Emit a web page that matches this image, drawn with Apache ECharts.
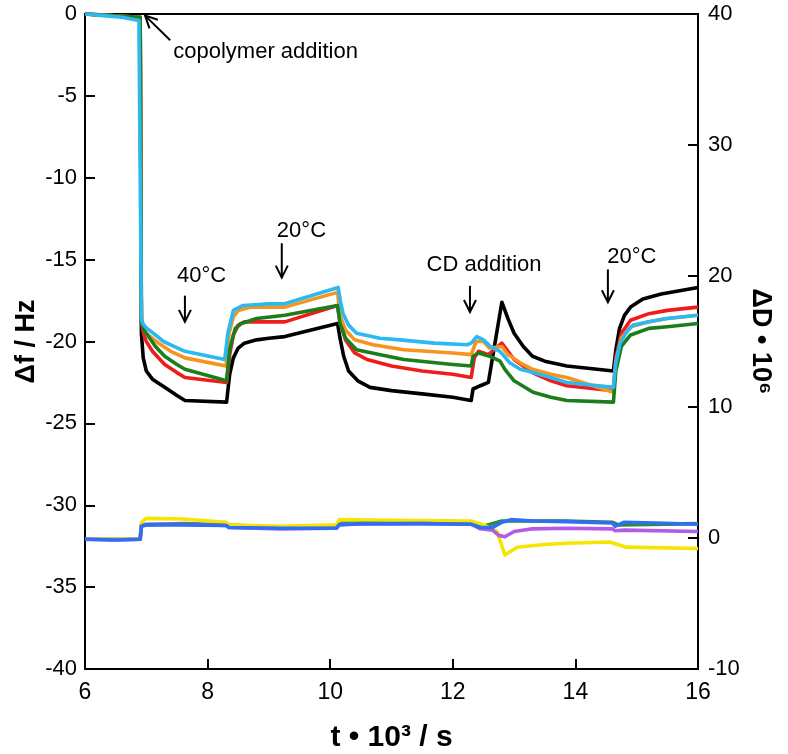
<!DOCTYPE html>
<html><head><meta charset="utf-8">
<script src="https://cdn.jsdelivr.net/npm/echarts@6/dist/echarts.min.js"></script>
<style>html,body{margin:0;padding:0;background:#fff}#c{width:788px;height:754px}</style>
</head><body><div id="c"></div>
<script>
// ---- axes ----
const xRange = [6, 16], xStep = 2;
const fRange = [-40, 0], fStep = 5;
const dRange = [-10, 40], dStep = 10;

// ---- frequency shift Δf (Hz) vs t (10^3 s) ----
const fBlack = [[6.0,0],[6.5,-0.1],[6.9,-0.2],[6.92,-19.5],[6.95,-21.0],[7.0,-21.8],[7.1,-22.3],[7.3,-22.8],[7.5,-23.3],[7.63,-23.6],[8.31,-23.7],[8.36,-22.0],[8.42,-21.0],[8.5,-20.4],[8.6,-20.1],[8.8,-19.9],[9.0,-19.8],[9.26,-19.7],[10.12,-18.9],[10.16,-19.8],[10.22,-20.9],[10.3,-21.8],[10.45,-22.4],[10.65,-22.8],[11.0,-23.0],[11.5,-23.2],[12.0,-23.4],[12.3,-23.6],[12.33,-22.9],[12.45,-22.7],[12.58,-22.5],[12.8,-17.6],[12.9,-18.6],[13.0,-19.5],[13.15,-20.3],[13.3,-20.9],[13.5,-21.2],[13.86,-21.5],[14.62,-21.8],[14.66,-20.5],[14.72,-19.2],[14.8,-18.4],[14.9,-17.9],[15.1,-17.4],[15.4,-17.1],[15.7,-16.9],[16.0,-16.7]];
const fRed = [[6.0,0],[6.9,-0.2],[6.92,-18.8],[6.96,-19.6],[7.0,-20.0],[7.1,-20.6],[7.3,-21.4],[7.5,-21.9],[7.63,-22.2],[8.31,-22.5],[8.36,-20.8],[8.42,-19.6],[8.5,-19.0],[8.6,-18.8],[9.0,-18.8],[9.26,-18.8],[10.12,-17.8],[10.16,-18.8],[10.25,-19.9],[10.4,-20.7],[10.6,-21.1],[11.0,-21.5],[11.5,-21.8],[12.0,-22.0],[12.3,-22.2],[12.35,-21.0],[12.42,-20.6],[12.58,-20.8],[12.8,-20.1],[12.9,-20.6],[13.0,-21.1],[13.3,-21.9],[13.6,-22.4],[13.86,-22.7],[14.62,-23.0],[14.66,-21.0],[14.75,-19.5],[14.9,-18.7],[15.2,-18.3],[15.5,-18.1],[16.0,-17.9]];
const fOrange = [[6.0,0],[6.9,-0.2],[6.92,-18.6],[6.96,-19.2],[7.0,-19.5],[7.2,-20.1],[7.4,-20.6],[7.63,-21.0],[8.3,-21.5],[8.35,-19.5],[8.42,-18.5],[8.5,-18.1],[8.7,-17.9],[9.26,-17.9],[10.12,-17.0],[10.16,-18.4],[10.25,-19.3],[10.4,-19.9],[10.7,-20.2],[11.2,-20.5],[12.0,-20.7],[12.3,-20.8],[12.38,-20.0],[12.5,-20.0],[12.6,-20.4],[12.8,-20.3],[12.9,-20.8],[13.1,-21.3],[13.3,-21.7],[13.6,-22.0],[13.86,-22.2],[14.62,-23.1],[14.66,-21.2],[14.75,-19.8],[14.9,-19.1],[15.2,-18.8],[15.5,-18.6],[16.0,-18.4]];
const fGreen = [[6.0,0],[6.9,-0.2],[6.92,-18.8],[6.96,-19.3],[7.0,-19.5],[7.15,-20.3],[7.3,-20.9],[7.5,-21.4],[7.63,-21.7],[8.31,-22.4],[8.36,-20.5],[8.45,-19.2],[8.55,-18.9],[8.8,-18.6],[9.26,-18.4],[10.12,-17.8],[10.16,-18.9],[10.25,-19.8],[10.43,-20.5],[10.8,-20.8],[11.2,-21.1],[12.0,-21.4],[12.3,-21.5],[12.33,-20.9],[12.42,-20.7],[12.6,-20.9],[12.77,-21.2],[12.85,-21.7],[13.0,-22.4],[13.31,-23.1],[13.6,-23.4],[13.86,-23.6],[14.62,-23.7],[14.66,-21.8],[14.75,-20.3],[14.9,-19.6],[15.2,-19.2],[15.5,-19.1],[16.0,-18.9]];
const fCyan = [[6.0,0],[6.3,-0.1],[6.6,-0.2],[6.88,-0.4],[6.92,-18.7],[6.96,-19.0],[7.01,-19.2],[7.15,-19.6],[7.28,-20.0],[7.45,-20.3],[7.63,-20.6],[8.28,-21.1],[8.33,-19.5],[8.42,-18.1],[8.58,-17.8],[9.0,-17.7],[9.26,-17.7],[10.13,-16.7],[10.17,-17.6],[10.21,-18.3],[10.3,-19.0],[10.43,-19.5],[10.81,-19.8],[11.14,-19.9],[11.7,-20.1],[12.23,-20.2],[12.3,-20.1],[12.39,-19.7],[12.5,-19.9],[12.61,-20.3],[12.77,-20.6],[12.93,-21.3],[13.1,-21.7],[13.31,-21.9],[13.6,-22.2],[13.86,-22.5],[14.62,-22.8],[14.66,-21.3],[14.73,-20.1],[14.84,-19.4],[14.94,-19.0],[15.2,-18.8],[15.49,-18.6],[16.0,-18.4]];

// ---- dissipation ΔD (10^-6) vs t (10^3 s) ----
const dGreen = [[6.0,-0.1],[6.9,-0.1],[6.92,1.0],[7.6,1.1],[8.3,1.0],[9.2,0.8],[10.1,0.85],[10.2,1.2],[12.3,1.15],[12.5,0.9],[12.8,1.3],[13.85,1.3],[14.6,1.2],[14.7,1.0],[16.0,1.1]];
const dYellow = [[6.0,-0.1],[6.9,-0.1],[6.92,1.2],[7.0,1.5],[7.6,1.45],[8.3,1.2],[8.35,1.0],[9.2,0.9],[10.1,1.0],[10.15,1.4],[11.0,1.35],[12.3,1.3],[12.5,1.0],[12.72,0.5],[12.85,-1.3],[13.05,-0.7],[13.5,-0.5],[13.86,-0.4],[14.56,-0.3],[14.83,-0.7],[16.0,-0.8]];
const dPurple = [[6.0,-0.1],[6.5,-0.15],[6.9,-0.1],[6.92,0.9],[7.0,1.05],[7.6,1.05],[8.3,0.95],[8.35,0.8],[9.2,0.7],[10.1,0.75],[10.15,1.05],[11.5,1.1],[12.3,1.05],[12.45,0.7],[12.65,0.6],[12.75,0.2],[12.85,0.1],[13.0,0.5],[13.3,0.7],[13.85,0.75],[14.6,0.7],[14.65,0.55],[14.8,0.6],[16.0,0.5]];
const dBlue = [[6.0,-0.1],[6.5,-0.15],[6.9,-0.1],[6.92,0.9],[7.0,1.0],[7.6,1.0],[8.3,0.95],[8.35,0.8],[9.2,0.75],[10.1,0.75],[10.15,1.0],[10.5,1.1],[11.5,1.1],[12.3,1.05],[12.45,0.8],[12.65,0.8],[12.8,1.2],[12.95,1.4],[13.3,1.3],[13.85,1.25],[14.6,1.15],[14.65,0.9],[14.8,1.2],[15.3,1.15],[16.0,1.05]];

// ---- annotations (data coordinates: t, Δf) ----
const noteTexts = ['copolymer addition', '40°C', '20°C', 'CD addition', '20°C'];
const notePos = [[7.44,-2.3],[7.5,-16.0],[9.13,-13.25],[12.51,-15.3],[14.92,-14.85]];
const noteAlign = ['left','left','left','center','center'];
const arrows = [[7.39,-1.6,6.98,-0.1],[7.63,-17.2,7.63,-18.8],[9.21,-14.0,9.21,-16.1],[12.28,-16.6,12.28,-18.2],[14.53,-15.6,14.53,-17.6]];

const FONT = "'Liberation Sans', Arial, Helvetica, sans-serif";
const chart = echarts.init(document.getElementById('c'), null, {renderer:'canvas'});

function fLine(name, data, color){
  return {name, type:'line', xAxisIndex:0, yAxisIndex:0, data, showSymbol:false, symbol:'none',
    lineStyle:{color, width:3.6, join:'round'}, itemStyle:{color}, animation:false, silent:true};
}
function dLine(name, data, color){
  return {name, type:'line', xAxisIndex:0, yAxisIndex:1, data, showSymbol:false, symbol:'none',
    lineStyle:{color, width:3.6, join:'round'}, itemStyle:{color}, animation:false, silent:true};
}

const axisCommon = {
  axisLine:{show:true, onZero:false, lineStyle:{color:'#000', width:2}},
  axisTick:{show:true, inside:true, length:10, lineStyle:{color:'#000', width:2}},
  splitLine:{show:false},
  axisLabel:{color:'#000', fontSize:22, fontFamily:FONT, showMinLabel:true, showMaxLabel:true},
  nameTextStyle:{color:'#000', fontFamily:FONT, fontWeight:'bold', fontSize:27},
  nameMoveOverlap:false
};

const option = {
  animation:false,
  backgroundColor:'#fff',
  grid:{left:85, right:90, top:14, bottom:85, containLabel:false, outerBoundsMode:'none',
        show:true, borderColor:'#000', borderWidth:2, backgroundColor:'transparent'},
  xAxis:[Object.assign({}, axisCommon, {
    type:'value', min:xRange[0], max:xRange[1], interval:xStep, position:'bottom',
    axisLabel:Object.assign({}, axisCommon.axisLabel, {margin:12, fontSize:23}),
    name:'t • 10³ / s', nameLocation:'middle', nameGap:54,
    nameTextStyle:{color:'#000', fontFamily:FONT, fontWeight:'bold', fontSize:30}
  })],
  yAxis:[Object.assign({}, axisCommon, {
    type:'value', min:fRange[0], max:fRange[1], interval:fStep, position:'left',
    axisLabel:Object.assign({}, axisCommon.axisLabel, {margin:8}),
    name:'Δf / Hz', nameLocation:'middle', nameRotate:90, nameGap:45
  }), Object.assign({}, axisCommon, {
    type:'value', min:dRange[0], max:dRange[1], interval:dStep, position:'right',
    axisLabel:Object.assign({}, axisCommon.axisLabel, {margin:10}),
    name:'ΔD • 10⁶', nameLocation:'middle', nameRotate:-90, nameGap:49
  })],
  series:[
    dLine('D green', dGreen, '#2e8b2e'),
    dLine('D yellow', dYellow, '#f5e600'),
    dLine('D purple', dPurple, '#b45ae6'),
    dLine('D blue', dBlue, '#2f6ff2'),
    fLine('f black', fBlack, '#000000'),
    fLine('f red', fRed, '#f01c1c'),
    fLine('f orange', fOrange, '#f7941d'),
    fLine('f green', fGreen, '#1c7d1c'),
    fLine('f cyan', fCyan, '#2bb9ef'),
    {
      type:'custom', name:'arrows', xAxisIndex:0, yAxisIndex:0, data:arrows, clip:false, silent:true,
      encode:{x:[0,2], y:[1,3]},
      renderItem:function(params, api){
        const p1 = api.coord([api.value(0), api.value(1)]);
        const p2 = api.coord([api.value(2), api.value(3)]);
        const dx = p2[0]-p1[0], dy = p2[1]-p1[1];
        const len = Math.hypot(dx, dy), ux = dx/len, uy = dy/len;
        const hl = 12, hw = 6;
        const a = [p2[0]-ux*hl - uy*hw, p2[1]-uy*hl + ux*hw];
        const b = [p2[0]-ux*hl + uy*hw, p2[1]-uy*hl - ux*hw];
        return {type:'group', children:[
          {type:'line', shape:{x1:p1[0], y1:p1[1], x2:p2[0], y2:p2[1]}, style:{stroke:'#000', lineWidth:2}},
          {type:'polyline', shape:{points:[a, p2, b]}, style:{stroke:'#000', lineWidth:2, fill:null}}
        ]};
      }
    },
    {
      type:'custom', name:'notes', xAxisIndex:0, yAxisIndex:0,
      data:notePos.map((p,i)=>[p[0], p[1], i]), clip:false, silent:true,
      renderItem:function(params, api){
        const p = api.coord([api.value(0), api.value(1)]);
        const i = api.value(2);
        return {type:'text', x:p[0], y:p[1], style:{text:noteTexts[i], fill:'#000', fontSize:22, fontFamily:FONT,
          align:noteAlign[i], verticalAlign:'middle'}};
      }
    }
  ]
};
chart.setOption(option);
</script></body></html>
